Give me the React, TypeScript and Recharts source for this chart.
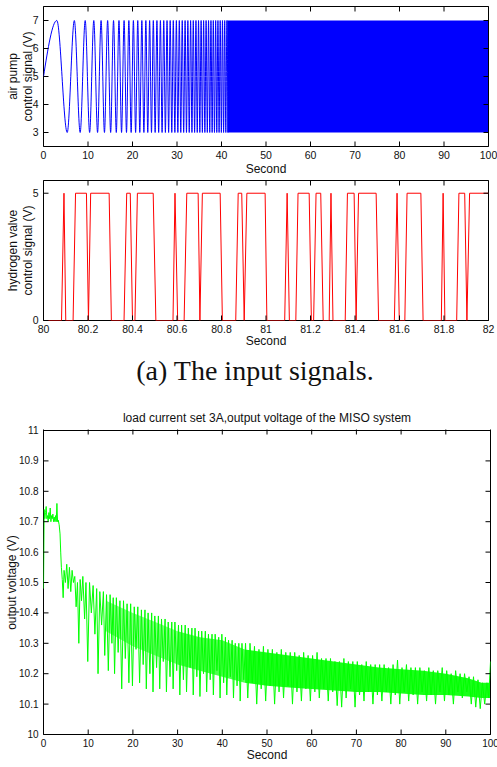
import React from 'react';
import { ComposedChart, Line, Area, XAxis, YAxis, ReferenceArea } from 'recharts';

// (a) air pump chirp: times of the 7 V crests and 3 V troughs
const pumpStart = [0, 5];
const pumpPeakTimes = [
  3.0, 6.93, 9.37, 11.3, 12.94, 14.41, 15.74, 16.96, 18.11, 19.18, 20.2, 21.18, 22.1, 23.0,
  23.85, 24.68, 25.49, 26.27, 27.02, 27.76, 28.47, 29.17, 29.86, 30.52, 31.18, 31.82, 32.44,
  33.06, 33.66, 34.26, 34.84, 35.42, 35.98, 36.54, 37.09, 37.63, 38.16, 38.69, 39.2, 39.71,
  40.22, 40.72, 41.21,
];
const pumpTroughTimes = [
  5.33, 8.24, 10.37, 12.15, 13.7, 15.09, 16.36, 17.54, 18.65, 19.7, 20.7, 21.64, 22.56, 23.43,
  24.27, 25.09, 25.88, 26.65, 27.39, 28.12, 28.83, 29.52, 30.19, 30.85, 31.5, 32.13, 32.75,
  33.36, 33.96, 34.55, 35.13, 35.7, 36.26, 36.81, 37.36, 37.9, 38.42, 38.94, 39.46, 39.97,
  40.47, 40.97, 41.46,
];
const pumpHigh = 7;
const pumpLow = 3;
// past ~41 s the swings are too dense to separate: a solid band from 3 to 7 V
const pumpBandTimes = [41.3, 100];
const pumpDomainX = [0, 100];
const pumpDomainY = [2.5, 7.5];
const pumpTicksX = [0, 10, 20, 30, 40, 50, 60, 70, 80, 90, 100];
const pumpTicksY = [3, 4, 5, 6, 7];

// hydrogen valve on/off signal, 80-82 s
const valveTrace: [number, number][] = [
  [80.0, 0], [80.081, 0], [80.092, 5], [80.1, 0], [80.133, 0], [80.144, 5],
  [80.193, 5], [80.202, 0], [80.212, 5], [80.295, 5], [80.305, 0],
  [80.362, 0], [80.374, 5], [80.39, 5], [80.4, 0], [80.411, 0], [80.422, 5],
  [80.493, 5], [80.505, 0], [80.582, 0], [80.591, 5], [80.603, 0],
  [80.632, 0], [80.644, 5], [80.695, 5], [80.703, 0], [80.714, 5],
  [80.794, 5], [80.804, 0], [80.864, 0], [80.875, 5], [80.891, 5], [80.902, 0], [80.914, 5],
  [80.996, 5], [81.004, 0], [81.084, 0], [81.095, 5], [81.105, 0],
  [81.134, 0], [81.144, 5], [81.194, 5], [81.204, 0], [81.214, 0], [81.225, 5],
  [81.246, 5], [81.257, 0], [81.284, 0], [81.292, 5], [81.301, 0],
  [81.356, 0], [81.366, 5], [81.396, 5], [81.405, 0], [81.416, 5],
  [81.495, 5], [81.506, 0], [81.577, 0], [81.589, 5], [81.599, 0],
  [81.624, 0], [81.634, 5], [81.696, 5], [81.706, 0], [81.788, 0], [81.796, 5], [81.804, 0],
  [81.857, 0], [81.867, 5], [81.893, 5], [81.903, 0], [81.915, 5], [82.0, 5],
];
const valveDomainX = [80, 82];
const valveDomainY = [0, 5.5];
const valveTicksX = [80, 80.2, 80.4, 80.6, 80.8, 81, 81.2, 81.4, 81.6, 81.8, 82];
const valveTicksY = [0, 5];

// output voltage, load current 3 A
const voltageTrace: [number, number][] = [
  [0, 10.48], [0.15, 10.74], [0.3, 10.71], [0.45, 10.73], [0.6, 10.75], [0.75, 10.71],
  [0.9, 10.72], [1.05, 10.7], [1.2, 10.73], [1.35, 10.71], [1.5, 10.745], [1.65, 10.7],
  [1.8, 10.72], [1.95, 10.71], [2.1, 10.725], [2.25, 10.7], [2.4, 10.715], [2.55, 10.7],
  [2.7, 10.72], [2.85, 10.7], [3.0, 10.76], [3.15, 10.7], [3.3, 10.705], [3.5, 10.69],
  [3.7, 10.66], [3.85, 10.6], [4.0, 10.55], [4.2, 10.51], [4.4, 10.45], [4.6, 10.54],
  [4.9, 10.5], [5.2, 10.56], [5.5, 10.48], [5.8, 10.55], [6.1, 10.47], [6.4, 10.54],
  [6.7, 10.5], [7.0, 10.52], [7.3, 10.42], [7.6, 10.5], [7.9, 10.3], [8.2, 10.51],
  [8.5, 10.44], [8.8, 10.52], [9.2, 10.38], [9.5, 10.5], [9.9, 10.24],
  [10.3, 10.5], [10.7, 10.4], [11.1, 10.49], [11.5, 10.33], [11.9, 10.48], [12.2, 10.2],
  [12.6, 10.47], [13.0, 10.36], [13.4, 10.47], [13.7, 10.26], [14.1, 10.46], [14.5, 10.21],
  [14.9, 10.46], [15.3, 10.3], [15.6, 10.45], [15.9, 10.2], [16.3, 10.45], [16.7, 10.27],
  [17.1, 10.44], [17.5, 10.15], [17.9, 10.44], [18.3, 10.25], [18.7, 10.43], [19.1, 10.17],
  [19.5, 10.43], [19.9, 10.16], [20.3, 10.42], [20.7, 10.28], [21.1, 10.42], [21.5, 10.17],
  [21.9, 10.41], [22.3, 10.23], [22.7, 10.41], [23.0, 10.15], [23.4, 10.4], [23.8, 10.2],
  [24.2, 10.4], [24.5, 10.14], [24.9, 10.39], [25.3, 10.22], [25.7, 10.39], [26.0, 10.15],
  [26.4, 10.38], [26.8, 10.24], [27.2, 10.38], [27.5, 10.14], [27.9, 10.37], [28.3, 10.19],
  [28.7, 10.37], [29.0, 10.15], [29.4, 10.37], [29.8, 10.21], [30.2, 10.36], [30.5, 10.13],
  [30.9, 10.36], [31.3, 10.18], [31.7, 10.36], [32.0, 10.14], [32.4, 10.35], [32.8, 10.22],
  [33.2, 10.35], [33.5, 10.13], [33.9, 10.35], [34.3, 10.19], [34.7, 10.34], [35.0, 10.125],
  [35.4, 10.34], [35.8, 10.2], [36.2, 10.34], [36.5, 10.14], [36.9, 10.33], [37.3, 10.18],
  [37.7, 10.33], [38.0, 10.13], [38.4, 10.33], [38.8, 10.21], [39.2, 10.32], [39.5, 10.12],
  [39.9, 10.33], [40.3, 10.17], [40.7, 10.32], [41.0, 10.13], [41.4, 10.31], [41.8, 10.19],
  [42.2, 10.31], [42.5, 10.12], [42.9, 10.3], [43.3, 10.16], [43.7, 10.3], [44.0, 10.11],
  [44.4, 10.3], [44.8, 10.18],
  [45.2, 10.3], [45.7, 10.12], [46.2, 10.3], [46.7, 10.17], [47.2, 10.29], [47.7, 10.1],
  [48.2, 10.28], [48.7, 10.15], [49.2, 10.29], [49.7, 10.11], [50.2, 10.28], [50.7, 10.16],
  [51.2, 10.28], [51.7, 10.1], [52.2, 10.27], [52.7, 10.14], [53.2, 10.28], [53.7, 10.12],
  [54.2, 10.27], [54.7, 10.16], [55.2, 10.27], [55.7, 10.1], [56.2, 10.27], [56.7, 10.14],
  [57.2, 10.26], [57.7, 10.11], [58.2, 10.27], [58.7, 10.15], [59.2, 10.26], [59.7, 10.11],
  [60.2, 10.26], [60.7, 10.14], [61.2, 10.27], [61.7, 10.12], [62.2, 10.25], [62.7, 10.15],
  [63.2, 10.25], [63.7, 10.11], [64.2, 10.25], [64.7, 10.14], [65.2, 10.24], [65.7, 10.095],
  [66.2, 10.24], [66.7, 10.09], [67.2, 10.25], [67.7, 10.12], [68.2, 10.24], [68.7, 10.15],
  [69.2, 10.24], [69.7, 10.09], [70.2, 10.24], [70.7, 10.13], [71.2, 10.23], [71.7, 10.11],
  [72.2, 10.24], [72.7, 10.14], [73.2, 10.23], [73.7, 10.1], [74.2, 10.23], [74.7, 10.13],
  [75.2, 10.23], [75.7, 10.11], [76.2, 10.23], [76.7, 10.14], [77.2, 10.22], [77.7, 10.1],
  [78.2, 10.23], [78.7, 10.13], [79.2, 10.245], [79.7, 10.1], [80.2, 10.22], [80.7, 10.14],
  [81.2, 10.23], [81.7, 10.11], [82.2, 10.22], [82.7, 10.13], [83.2, 10.22], [83.7, 10.1],
  [84.2, 10.22], [84.7, 10.14], [85.2, 10.21], [85.7, 10.11], [86.2, 10.22], [86.7, 10.13],
  [87.2, 10.21], [87.7, 10.1], [88.2, 10.21], [88.7, 10.14], [89.2, 10.22], [89.7, 10.11],
  [90.2, 10.21], [90.7, 10.13], [91.2, 10.2], [91.7, 10.1], [92.2, 10.21], [92.7, 10.14],
  [93.2, 10.2], [93.7, 10.12], [94.2, 10.2], [94.7, 10.14], [95.2, 10.19], [95.7, 10.1],
  [96.2, 10.19], [96.7, 10.09], [97.2, 10.18], [97.7, 10.085], [98.2, 10.17], [98.7, 10.1],
  [99.2, 10.17], [99.6, 10.12], [100, 10.24],
];
// where the oscillation is too dense to resolve, the trace fills a core band;
// the band gets denser from left to right
const voltageCoreSparse: [number, number, number][] = [
  [14, 10.34, 10.44], [20, 10.29, 10.4], [25, 10.26, 10.37], [30, 10.23, 10.34],
];
const voltageCoreMid: [number, number, number][] = [
  [30, 10.23, 10.34], [35, 10.21, 10.32], [40, 10.19, 10.31], [45, 10.17, 10.28],
];
const voltageCoreSolid: [number, number, number][] = [
  [45, 10.17, 10.28], [50, 10.16, 10.27], [55, 10.155, 10.26], [60, 10.15, 10.25],
  [65, 10.145, 10.24], [70, 10.14, 10.23], [75, 10.14, 10.22], [80, 10.135, 10.215],
  [85, 10.13, 10.21], [90, 10.13, 10.2], [95, 10.125, 10.185], [98, 10.12, 10.17], [100, 10.12, 10.17],
];
const voltageDomainX = [0, 100];
const voltageDomainY = [10, 11];
const voltageTicksX = [0, 10, 20, 30, 40, 50, 60, 70, 80, 90, 100];
const voltageTicksY = [10, 10.1, 10.2, 10.3, 10.4, 10.5, 10.6, 10.7, 10.8, 10.9, 11];

const pumpTrace = [
  { t: pumpStart[0], v: pumpStart[1] },
  ...pumpPeakTimes.map((t) => ({ t, v: pumpHigh })),
  ...pumpTroughTimes.map((t) => ({ t, v: pumpLow })),
].sort((a, b) => a.t - b.t);
const pumpBand = pumpBandTimes.map((t) => ({ t, range: [pumpLow, pumpHigh] }));
const valveData = valveTrace.map(([t, v]) => ({ t, v }));
const voltageData = voltageTrace.map(([t, v]) => ({ t, v }));
const toBand = (rows: [number, number, number][]) => rows.map(([t, lo, hi]) => ({ t, range: [lo, hi] }));

const FONT = '"Liberation Sans", Arial, Helvetica, sans-serif';
const labelStyle = { fill: '#111', fontSize: 12 };
const TICK_LEN = 5;
const TICK_GAP = 5;

// MATLAB style ticks: label plus an inward tick on this side and on the opposite side of the box
function boxTick(side: 'bottom' | 'left', span: number, fontSize: number) {
  return (props: any) => {
    const { x, y, payload } = props;
    if (side === 'bottom') {
      const ay = y - TICK_GAP;
      return (
        <g>
          <line x1={x} x2={x} y1={ay} y2={ay - TICK_LEN} stroke="#000" />
          <line x1={x} x2={x} y1={ay - span} y2={ay - span + TICK_LEN} stroke="#000" />
          <text x={x} y={y} dy="0.71em" textAnchor="middle" fontSize={fontSize} fill="#111">{payload.value}</text>
        </g>
      );
    }
    const ax = x + TICK_GAP;
    return (
      <g>
        <line x1={ax} x2={ax + TICK_LEN} y1={y} y2={y} stroke="#000" />
        <line x1={ax + span} x2={ax + span - TICK_LEN} y1={y} y2={y} stroke="#000" />
        <text x={x} y={y} dy="0.355em" textAnchor="end" fontSize={fontSize} fill="#111">{payload.value}</text>
      </g>
    );
  };
}

function axisTitle(lines: string[], xs: number[], fallbackCy: number) {
  return (props: any) => {
    const vb = props && props.viewBox;
    const cy = vb && typeof vb.y === 'number' && typeof vb.height === 'number' ? vb.y + vb.height / 2 : fallbackCy;
    return (
      <g>
        {lines.map((s, i) => (
          <text key={s} x={xs[i]} y={cy} transform={`rotate(-90 ${xs[i]} ${cy})`} textAnchor="middle"
            dominantBaseline="central" fontSize={12} fill="#111">
            {s}
          </text>
        ))}
      </g>
    );
  };
}

const axisBase = { type: 'number' as const, interval: 0 as const, allowDataOverflow: true, axisLine: false, tickLine: false, tickSize: 0, tickMargin: TICK_GAP };

export default function App() {
  return (
    <div style={{ position: 'absolute', left: 0, top: 0, width: 497, height: 767, background: '#fff', fontFamily: FONT }}>
      <div style={{ position: 'absolute', left: 0, top: 0 }}>
        <ComposedChart width={497} height={180} margin={{ top: 6.5, right: 8.5, bottom: 0, left: 0 }}>
          <XAxis {...axisBase} xAxisId="b" dataKey="t" domain={pumpDomainX} ticks={pumpTicksX} height={33.5}
            tick={boxTick('bottom', 140, 10.5)}
            label={{ value: 'Second', position: 'insideBottom', offset: 7.5, ...labelStyle }} />
          <YAxis {...axisBase} yAxisId="l" domain={pumpDomainY} ticks={pumpTicksY} width={43.5}
            tick={boxTick('left', 445, 10.5)}
            label={axisTitle(['air pump', 'control signal (V)'], [13.3, 28.3], 76.5)} />
          <Area xAxisId="b" yAxisId="l" data={pumpBand} dataKey="range" stroke="none" fill="#0000ff" fillOpacity={1}
            isAnimationActive={false} />
          <Line xAxisId="b" yAxisId="l" data={pumpTrace} dataKey="v" type="monotone" stroke="#0000ff" strokeWidth={1}
            dot={false} isAnimationActive={false} />
          <ReferenceArea xAxisId="b" yAxisId="l" x1={pumpDomainX[0]} x2={pumpDomainX[1]} y1={pumpDomainY[0]} y2={pumpDomainY[1]}
            fill="none" fillOpacity={0} stroke="#000" strokeWidth={1} strokeOpacity={1} ifOverflow="visible" />
        </ComposedChart>
      </div>

      <div style={{ position: 'absolute', left: 0, top: 172 }}>
        <ComposedChart width={497} height={178} margin={{ top: 8.5, right: 8.5, bottom: 0, left: 0 }}>
          <XAxis {...axisBase} xAxisId="b" dataKey="t" domain={valveDomainX} ticks={valveTicksX} height={29.5}
            tick={boxTick('bottom', 140, 10.5)}
            label={{ value: 'Second', position: 'insideBottom', offset: 5.5, ...labelStyle }} />
          <YAxis {...axisBase} yAxisId="l" domain={valveDomainY} ticks={valveTicksY} width={43.5}
            tick={boxTick('left', 445, 10.5)}
            label={axisTitle(['hydrogen valve', 'control signal (V)'], [13.3, 28.3], 78)} />
          <Line xAxisId="b" yAxisId="l" data={valveData} dataKey="v" type="linear" stroke="#ff0000" strokeWidth={1}
            dot={false} isAnimationActive={false} />
          <ReferenceArea xAxisId="b" yAxisId="l" x1={valveDomainX[0]} x2={valveDomainX[1]} y1={valveDomainY[0]} y2={valveDomainY[1]}
            fill="none" fillOpacity={0} stroke="#000" strokeWidth={1} strokeOpacity={1} ifOverflow="visible" />
        </ComposedChart>
      </div>

      <div style={{ position: 'absolute', left: 0, top: 355, width: 510, textAlign: 'center',
        fontFamily: '"Liberation Serif", "Times New Roman", serif', fontSize: 28, lineHeight: '32px', color: '#111' }}>
        (a) The input signals.
      </div>

      <div style={{ position: 'absolute', left: 0, top: 400 }}>
        <ComposedChart width={497} height={367} margin={{ top: 29.5, right: 6.5, bottom: 0, left: 0 }}>
          <XAxis {...axisBase} xAxisId="b" dataKey="t" domain={voltageDomainX} ticks={voltageTicksX} height={32.5}
            tick={boxTick('bottom', 305, 10)}
            label={{ value: 'Second', position: 'insideBottom', offset: 8, ...labelStyle }} />
          <XAxis {...axisBase} xAxisId="t" orientation="top" dataKey="t" domain={voltageDomainX} ticks={voltageTicksX}
            height={1} tick={false}
            label={{ value: 'load current set 3A,output voltage of the MISO system', position: 'top', offset: 8, ...labelStyle }} />
          <YAxis {...axisBase} yAxisId="l" domain={voltageDomainY} ticks={voltageTicksY} width={43.5}
            tick={boxTick('left', 447, 10)}
            label={axisTitle(['output voltage (V)'], [12], 182)} />
          <Area xAxisId="b" yAxisId="l" data={toBand(voltageCoreSparse)} dataKey="range" type="linear" stroke="none"
            fill="#00ff00" fillOpacity={0.5} isAnimationActive={false} />
          <Area xAxisId="b" yAxisId="l" data={toBand(voltageCoreMid)} dataKey="range" type="linear" stroke="none"
            fill="#00ff00" fillOpacity={0.7} isAnimationActive={false} />
          <Area xAxisId="b" yAxisId="l" data={toBand(voltageCoreSolid)} dataKey="range" type="linear" stroke="none"
            fill="#00ff00" fillOpacity={0.9} isAnimationActive={false} />
          <Line xAxisId="b" yAxisId="l" data={voltageData} dataKey="v" type="linear" stroke="#00ff00" strokeWidth={1}
            dot={false} isAnimationActive={false} />
          <ReferenceArea xAxisId="b" yAxisId="l" x1={voltageDomainX[0]} x2={voltageDomainX[1]} y1={voltageDomainY[0]} y2={voltageDomainY[1]}
            fill="none" fillOpacity={0} stroke="#000" strokeWidth={1} strokeOpacity={1} ifOverflow="visible" />
        </ComposedChart>
      </div>
    </div>
  );
}
